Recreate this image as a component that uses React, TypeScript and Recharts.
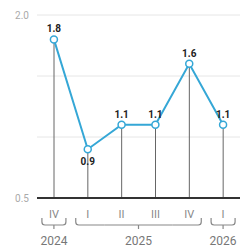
import { ComposedChart, Line, Bar, XAxis, YAxis, CartesianGrid, LabelList } from "recharts";

const quarters = ["IV", "I", "II", "III", "IV", "I"];
const years = ["2024", "2025", "2025", "2025", "2025", "2026"];
const values = [1.8, 0.9, 1.1, 1.1, 1.6, 1.1];
const yTicks = [0.5, 1.0, 1.5, 2.0];
const labelledTicks = [0.5, 2.0];

const data = quarters.map((q, i) => ({
  key: years[i] + "-" + q,
  quarter: q,
  year: years[i],
  value: values[i],
}));

const W = 240;
const H = 250;
const LEFT = 37;
const BAND = (W - LEFT) / quarters.length;
const LINE_COLOR = "#35a7d6";
const FONT = "Roboto, 'DejaVu Sans', sans-serif";

const QuarterTick = (props: any) => {
  const { x, y, payload } = props;
  const i = payload.index;
  const yr = years[i];
  const first = i === 0 || years[i - 1] !== yr;
  const last = i === years.length - 1 || years[i + 1] !== yr;
  const y0 = y + 20;
  const y1 = y + 27;
  const parts: any[] = [];
  // piece of the group bracket under this tick
  const xl = first ? x - 12 : x - BAND / 2;
  const xr = last ? x + 12 : x + BAND / 2;
  let d = "";
  if (first) d += `M ${xl} ${y0} L ${xl} ${y1 - 3} Q ${xl} ${y1} ${xl + 3} ${y1} `;
  else d += `M ${xl} ${y1} `;
  if (last) d += `L ${xr - 3} ${y1} Q ${xr} ${y1} ${xr} ${y1 - 3} L ${xr} ${y0}`;
  else d += `L ${xr} ${y1}`;
  parts.push(<path key="b" d={d} fill="none" stroke="#888" strokeWidth={1.2} />);
  // year label at the group's center
  let start = i;
  while (start > 0 && years[start - 1] === yr) start--;
  let end = i;
  while (end < years.length - 1 && years[end + 1] === yr) end++;
  const mid = (start + end) / 2;
  if (Math.abs(mid - i) < 0.01 || Math.abs(mid - i - 0.5) < 0.01) {
    const cx = x + (mid - i) * BAND;
    parts.push(<line key="n" x1={cx} y1={y1} x2={cx} y2={y1 + 4} stroke="#888" strokeWidth={1.2} />);
    parts.push(
      <text key="y" x={cx} y={y + 47} textAnchor="middle" fill="#777" fontSize={12} fontFamily={FONT}>
        {yr}
      </text>
    );
  }
  return (
    <g>
      <text x={x} y={y + 20} textAnchor="middle" fill="#888" fontSize={11} fontFamily={FONT}>
        {quarters[i]}
      </text>
      {parts}
    </g>
  );
};

const DropLine = (props: any) => {
  const { x, y, width, height } = props;
  const cx = x + width / 2;
  return <line x1={cx} y1={y} x2={cx} y2={y + height} stroke="#666" strokeWidth={1} />;
};

const ValueLabel = (props: any) => {
  const { x, y, value, index } = props;
  const below =
    index > 0 &&
    index < values.length - 1 &&
    values[index] < values[index - 1] &&
    values[index] < values[index + 1];
  return (
    <text
      x={x}
      y={below ? y + 16 : y - 7}
      textAnchor="middle"
      fill="#222"
      fontSize={10}
      fontWeight="bold"
      fontFamily={FONT}
    >
      {value.toFixed(1)}
    </text>
  );
};

export default function App() {
  return (
    <div style={{ position: "absolute", left: 0, top: 0, width: W, height: H, background: "#fff" }}>
      <ComposedChart width={W} height={H} data={data} margin={{ top: 15, right: 0, bottom: 0, left: 0 }}>
        <CartesianGrid vertical={false} stroke="#e6e6e6" />
        <XAxis
          dataKey="key"
          tick={<QuarterTick />}
          interval={0}
          height={52}
          tickLine={false}
          tickSize={0}
          tickMargin={0}
          axisLine={{ stroke: "#333", strokeWidth: 2 }}
        />
        <YAxis
          domain={[0.5, 2.0]}
          ticks={yTicks}
          width={LEFT}
          axisLine={false}
          tickLine={false}
          tickSize={0}
          tickMargin={8}
          tick={{ fill: "#aaa", fontSize: 10, fontFamily: FONT }}
          tickFormatter={(v: number) => (labelledTicks.includes(v) ? v.toFixed(1) : "")}
        />
        <Bar dataKey="value" barSize={2} shape={<DropLine />} isAnimationActive={false} />
        <Line
          dataKey="value"
          stroke={LINE_COLOR}
          strokeWidth={2}
          dot={{ r: 3.5, fill: "#fff", stroke: LINE_COLOR, strokeWidth: 1.5 }}
          isAnimationActive={false}
        >
          <LabelList dataKey="value" content={<ValueLabel />} />
        </Line>
      </ComposedChart>
    </div>
  );
}
